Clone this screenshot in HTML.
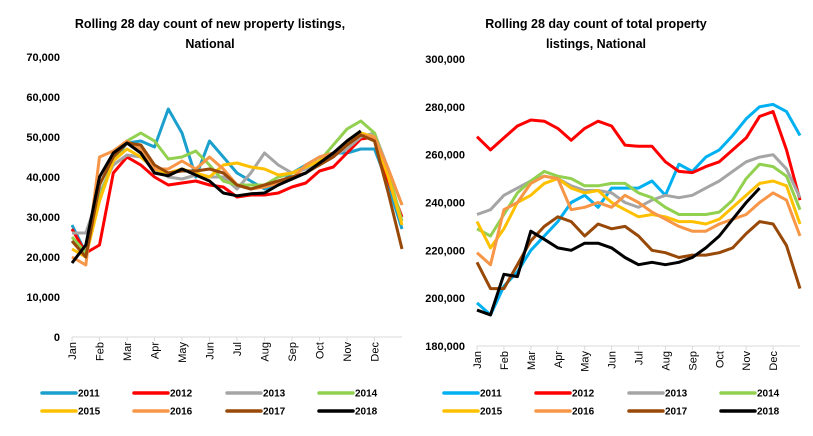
<!DOCTYPE html>
<html><head><meta charset="utf-8"><style>
body{margin:0;background:#fff;width:813px;height:431px;overflow:hidden;font-family:"Liberation Sans",sans-serif}
svg text{font-family:"Liberation Sans",sans-serif;font-weight:bold;fill:#000}
.tick{font-size:11px}
.mon{font-size:11px;font-weight:normal}
.leg{font-size:10px;font-family:"Liberation Sans Narrow","Liberation Sans",sans-serif}
.ttl{font-size:12.5px}
</style></head><body>
<svg id="c" width="813" height="431">
<text class="ttl" x="210" y="28" text-anchor="middle">Rolling 28 day count of new property listings,</text>
<text class="ttl" x="210" y="48" text-anchor="middle">National</text>
<text class="ttl" x="596" y="28" text-anchor="middle">Rolling 28 day count of total property</text>
<text class="ttl" x="596" y="48" text-anchor="middle">listings, National</text>
</svg>
<script>
const months=["Jan","Feb","Mar","Apr","May","Jun","Jul","Aug","Sep","Oct","Nov","Dec"];
const years=["2011","2012","2013","2014","2015","2016","2017","2018"];
const leftTicks=[0,10000,20000,30000,40000,50000,60000,70000];
const rightTicks=[180000,200000,220000,240000,260000,280000,300000];
// values in thousands at half-month steps (t = 0,0.5,...,12)
const newL2011=[28,21,35,44,48.5,49,47.5,57,51,40,49,45,41,39,37,38,41,43,45,46,46,47,47,38,27];
const newL2012=[27,21,23,41,45,43,40,38,38.5,39,38,37.5,35,35.5,35.5,36,37.5,38.5,41.5,42.5,46,49.5,50,39,30];
const newL2013=[26,26,36,43,45.5,45,42,40,39.5,40.5,40,40,37,41,46,43,41,42,43.5,45.5,47,50,51,42,33];
const newL2014=[25,21,35,44,49,51,49,44.5,45,46.5,43,39,38,38,38,40,41,42.5,44,48,52,54,51,41,29];
const newL2015=[22,20,34,44,47,45,42,41,42,41,40,43,43.5,42.5,42,40.5,41,42.5,44,46,48,51,50,40,28];
const newL2016=[20,18,45,46.5,49,47,42,42,44,42,45,42,38,37,37.5,38.5,39.5,43,45,46,48,50.5,50,42,33];
const newL2017=[24,20,38,45,48.5,48,43,41,41.5,41.5,42,41,38,37,38,39,40,41,43,45,48,50.5,49,36,22];
const newL2018=[18.5,23,40,46,48.5,46,41,40.3,42,40.5,39,36,35.3,35.8,36,38,39.5,41,43.5,46,49,51.5,null,null,null];
const totR2011=[198,193,205,211,220,226,232,240,243,238,246,246,246,249,243,256,253,259,262,268,275,280,281,278,268];
const totR2012=[267.5,262,267,272,274.5,274,271,266,271,274,272,264,263.5,263.5,257,253,252.5,255,257,262,267,276,278,262,241];
const totR2013=[235,237,243,246,249,251,250,247,245,245,244,240,238,241,243,242,243,246,249,253,257,259,260,254,242];
const totR2014=[229,226,235,244,249,253,251,250,247,247,248,248,244,242,238,235,235,235,236,241,250,256,255,251,237];
const totR2015=[232,221,229,240,243,248,250,246,244,245,240,237,234,235,234,232,232,231,233,238,243,248,249,247,231];
const totR2016=[219,214,237,240,248,251,250,237,238,240,238,243,240,236,233,230,228,228,231,233,235,240,244,241,226];
const totR2017=[215,204,204,214,224,230,234,232,226,231,229,230,226,220,219,217,218,218,219,221,227,232,231,222,204];
const totR2018=[195,193,210,209,228,224.6,221,220,223,223,221,217,214,215,214,215,217,221,226,233,240,246,null,null,null];
const colorsL=["#1b9fcc","#ff0000","#a5a5a5","#92d050","#ffc000","#f79646","#984807","#000000"];
const colorsR=["#00b0f0","#ff0000","#a5a5a5","#92d050","#ffc000","#f79646","#984807","#000000"];
const NS="http://www.w3.org/2000/svg";
const svg=document.getElementById('c');
function mk(t,a){const e=document.createElementNS(NS,t);for(const k in a)e.setAttribute(k,a[k]);svg.appendChild(e);return e;}
function chart(cfg){
  const xs=t=>cfg.x0+(cfg.x1-cfg.x0)*t/12;
  const ys=v=>cfg.yb-(v-cfg.vmin)/(cfg.vmax-cfg.vmin)*(cfg.yb-cfg.yt);
  const ax=mk('line',{x1:cfg.x0,x2:cfg.x1,y1:cfg.yb,y2:cfg.yb,stroke:'#d9d9d9','stroke-width':1});
  
  
  cfg.ticks.forEach(v=>{
    const t=mk('text',{x:cfg.x0-12,y:ys(v)+4,'text-anchor':'end','class':'tick'});
    t.textContent=v.toLocaleString('en-US');
    
    
  });
  months.forEach((m,i)=>{
    const x=xs(i);
    const tk=mk('line',{x1:x,x2:x,y1:cfg.yb,y2:cfg.yb+4,stroke:'#d9d9d9'});
    
    
    const t=mk('text',{x:0,y:0,'text-anchor':'end','class':'mon',transform:`translate(${x+4},${cfg.yb+5}) rotate(-90)`});
    t.textContent=m;
    
    
  });
  cfg.series.forEach((s,i)=>{
    let d='';let started=false;
    s.forEach((v,j)=>{if(v==null)return;d+=(started?'L':'M')+xs(j*0.5).toFixed(1)+','+ys(v*1000).toFixed(1);started=true;});
    const p=mk('path',{d:d,fill:'none',stroke:cfg.colors[i],'stroke-width':3,'stroke-linejoin':'round'});
    
    
  });
  const lx=[42,134,227,319];
  years.forEach((y,i)=>{
    const x=lx[i%4]+cfg.lo, yy=i<4?393:411;
    const l=mk('line',{x1:x,x2:x+34,y1:yy,y2:yy,stroke:cfg.colors[i],'stroke-width':3.5,'stroke-linecap':'round'});
    
    
    const t=mk('text',{x:x+36,y:yy+3.5,'class':'leg'});
    t.textContent=y;
    
    
  });
}
chart({p:'left',x0:72,x1:402,yt:57,yb:337,vmin:0,vmax:70000,ticks:leftTicks,colors:colorsL,lo:0,
  series:[newL2011,newL2012,newL2013,newL2014,newL2015,newL2016,newL2017,newL2018]});
chart({p:'right',x0:477,x1:800,yt:59,yb:346,vmin:180000,vmax:300000,ticks:rightTicks,colors:colorsR,lo:402,
  series:[totR2011,totR2012,totR2013,totR2014,totR2015,totR2016,totR2017,totR2018]});
</script>
</body></html>
